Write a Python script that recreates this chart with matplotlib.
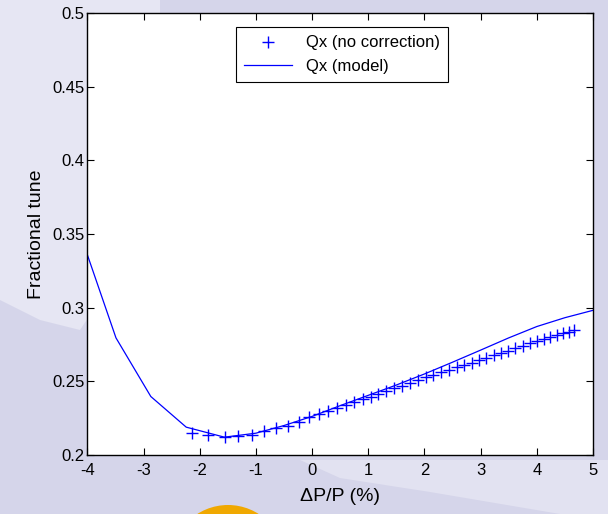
import matplotlib
matplotlib.use("Agg")
import matplotlib.pyplot as plt
from matplotlib.patches import Circle, Polygon

plt.rcParams['font.family'] = ['Liberation Sans', 'DejaVu Sans']
plt.rcParams['axes.unicode_minus'] = False

# measured tunes (no correction)
dpp_meas = [-2.14, -1.85, -1.55, -1.31, -1.07, -0.85, -0.65, -0.43, -0.24, -0.05,
            0.12, 0.28, 0.44, 0.60, 0.75, 0.90, 1.04, 1.18, 1.32, 1.46,
            1.60, 1.74, 1.88, 2.02, 2.16, 2.30, 2.44, 2.58, 2.71, 2.84,
            2.97, 3.10, 3.23, 3.36, 3.49, 3.62, 3.75, 3.88, 4.00, 4.12,
            4.24, 4.36, 4.47, 4.57, 4.66]
qx_meas = [0.2148, 0.2136, 0.2125, 0.2130, 0.2136, 0.2164, 0.2182, 0.2200, 0.2223, 0.2255,
           0.2275, 0.2296, 0.2317, 0.2338, 0.2358, 0.2377, 0.2395, 0.2414, 0.2433, 0.2452,
           0.2471, 0.2490, 0.2509, 0.2527, 0.2544, 0.2561, 0.2578, 0.2595, 0.2611, 0.2627,
           0.2644, 0.2660, 0.2676, 0.2693, 0.2709, 0.2726, 0.2742, 0.2758, 0.2775, 0.2787,
           0.2800, 0.2813, 0.2826, 0.2838, 0.2850]

# model curve
dpp_model = [-4.0, -3.49, -2.87, -2.24, -1.56, -1.0, -0.5, 0.0, 0.5, 1.0,
             1.5, 2.0, 2.5, 3.0, 3.5, 4.0, 4.5, 5.0]
qx_model = [0.336, 0.2795, 0.2397, 0.2189, 0.2121, 0.2148, 0.2200, 0.2262, 0.2335, 0.2405,
            0.2475, 0.2550, 0.2630, 0.2712, 0.2795, 0.2872, 0.2932, 0.2982]

xticks = [-4, -3, -2, -1, 0, 1, 2, 3, 4, 5]
yticks = [0.2, 0.25, 0.3, 0.35, 0.4, 0.45, 0.5]
ytick_labels = ["0.2", "0.25", "0.3", "0.35", "0.4", "0.45", "0.5"]

fig = plt.figure(figsize=(6.08, 5.14), dpi=100)
fig.patch.set_facecolor('#d5d5ea')

# slide background decoration
bg = fig.add_axes([0, 0, 1, 1], zorder=-10)
bg.set_xlim(0, 608)
bg.set_ylim(514, 0)
bg.axis('off')
bg.add_patch(Polygon([[0, 0], [160, 0], [160, 20], [100, 60], [100, 300], [80, 330],
                      [40, 320], [0, 300]], closed=True, color='#e6e6f3', lw=0))
bg.add_patch(Polygon([[300, 460], [608, 460], [608, 514], [560, 514], [430, 492],
                      [340, 478]], closed=True, color='#e2e2f1', lw=0))
bg.add_patch(Circle((228, 562), 57, color='#f0a800', lw=0))
bg.add_patch(Circle((228, 566), 50, color='#f8c400', lw=0))

ax = fig.add_axes([0.1436, 0.1148, 0.8318, 0.8599])
ax.set_facecolor('white')
ax.plot(dpp_meas, qx_meas, '+', color='#0000ff', markersize=9, mew=1.0,
        label='Qx (no correction)')
ax.plot(dpp_model, qx_model, '-', color='#0000ff', lw=0.9, label='Qx (model)')

ax.set_xlim(-4, 5)
ax.set_ylim(0.2, 0.5)
ax.set_xticks(xticks)
ax.set_yticks(yticks)
ax.set_yticklabels(ytick_labels)
ax.tick_params(direction='in', length=5, width=0.8, top=True, right=True,
               labelsize=12)
ax.tick_params(axis='x', pad=6)
ax.tick_params(axis='y', pad=2)
for s in ax.spines.values():
    s.set_linewidth(1.0)
ax.set_xlabel('\u0394P/P (%)', fontsize=14, labelpad=7)
ax.set_ylabel('Fractional tune', fontsize=14, labelpad=5)

leg = ax.legend(loc='upper center', bbox_to_anchor=(0.503, 0.987), fontsize=12,
                frameon=True, fancybox=False, framealpha=1, edgecolor='black',
                borderpad=0.5, handlelength=2.9, labelspacing=0.5)
leg.get_frame().set_linewidth(0.8)

fig.savefig('out.png', dpi=100, facecolor=fig.get_facecolor())
